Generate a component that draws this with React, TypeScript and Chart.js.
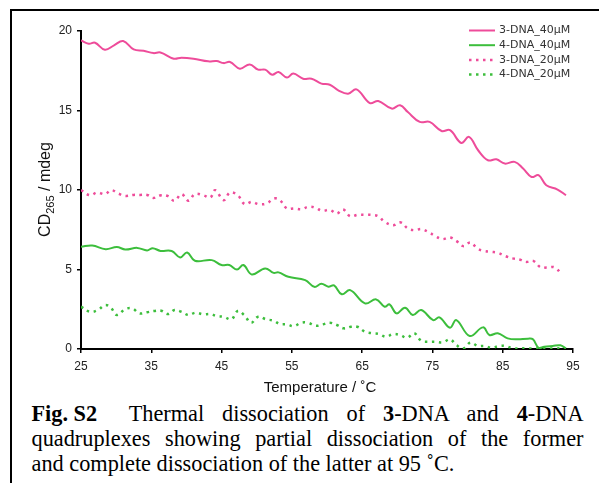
import React, { useEffect, useRef } from 'react';
import { Chart, registerables } from 'chart.js';

Chart.register(...registerables);

// ---------- data ----------
const seriesLabels = ['3-DNA_40μM', '4-DNA_40μM', '3-DNA_20μM', '4-DNA_20μM'];
const xTickValues = [25, 35, 45, 55, 65, 75, 85, 95];
const yTickValues = [0, 5, 10, 15, 20];

const dna3_40_T = [25.0, 26.1, 27.0, 28.4, 29.7, 31.0, 32.5, 33.9, 35.3, 36.3, 38.2, 39.3, 41.0, 43.1, 44.3, 45.3, 46.2, 47.6, 49.0, 50.2, 51.2, 52.2, 53.1, 54.3, 55.2, 56.6, 57.8, 59.2, 60.4, 61.6, 63.0, 64.2, 66.1, 67.3, 69.2, 70.4, 71.5, 73.2, 74.6, 76.3, 77.5, 79.1, 80.2, 81.5, 82.9, 84.1, 85.3, 86.7, 87.9, 89.1, 90.1, 91.2, 92.8, 94.0];
const dna3_40_V = [19.41, 19.2, 19.26, 18.82, 19.1, 19.37, 18.84, 18.76, 18.61, 18.65, 18.26, 18.32, 18.26, 18.09, 18.11, 17.98, 18.05, 17.63, 17.9, 17.57, 17.57, 17.25, 17.42, 17.07, 17.32, 17.0, 17.0, 16.69, 16.62, 16.27, 16.06, 16.33, 15.47, 15.6, 15.12, 15.33, 14.9, 14.28, 14.28, 13.71, 13.76, 12.96, 13.34, 12.5, 11.87, 11.93, 11.66, 11.77, 11.35, 10.82, 10.93, 10.3, 10.03, 9.67];

const dna4_40_T = [25.0, 26.6, 28.5, 30.1, 31.3, 33.0, 34.4, 35.2, 36.3, 37.9, 39.1, 40.1, 41.2, 43.6, 45.0, 46.1, 47.2, 48.1, 49.3, 51.2, 52.4, 53.1, 54.5, 56.9, 58.2, 59.2, 60.2, 61.0, 62.1, 63.3, 65.4, 67.0, 68.2, 68.9, 69.9, 71.1, 72.2, 73.4, 75.1, 76.0, 77.5, 78.4, 80.3, 82.2, 83.1, 84.3, 85.7, 87.1, 88.6, 89.3, 90.1, 90.9, 92.1, 93.2, 94.0];
const dna4_40_V = [6.43, 6.51, 6.28, 6.41, 6.26, 6.36, 6.2, 6.34, 6.17, 6.16, 5.76, 6.07, 5.55, 5.59, 5.28, 5.28, 5.0, 5.28, 4.69, 5.07, 4.79, 4.82, 4.54, 4.33, 3.91, 4.1, 3.92, 4.0, 3.44, 3.7, 2.87, 3.12, 2.66, 2.81, 2.24, 2.6, 2.14, 2.45, 1.82, 1.99, 1.34, 1.82, 0.82, 1.36, 0.88, 0.99, 0.67, 0.61, 0.65, 0.61, 0.08, 0.14, 0.19, 0.23, 0.04];

const dna3_20_T = [25.0, 26.3, 27.3, 28.4, 29.3, 30.3, 31.3, 32.5, 33.4, 34.4, 35.3, 36.4, 37.4, 38.3, 39.3, 40.3, 41.2, 42.4, 43.4, 44.1, 45.3, 46.2, 47.3, 48.3, 49.3, 50.3, 51.4, 52.5, 53.3, 54.3, 55.4, 56.4, 57.3, 58.3, 59.3, 60.4, 61.4, 62.3, 63.3, 64.4, 65.4, 66.3, 67.3, 68.2, 69.4, 70.5, 71.5, 72.5, 73.4, 74.4, 75.4, 76.4, 77.5, 78.4, 79.4, 80.4, 81.4, 82.3, 83.4, 84.3, 85.4, 86.4, 87.4, 88.3, 89.4, 90.4, 91.3, 92.4, 93.4];
const dna3_20_V = [9.99, 9.67, 9.84, 9.74, 9.99, 9.78, 9.63, 9.69, 9.69, 9.69, 9.5, 9.67, 9.61, 9.32, 9.74, 9.32, 9.74, 9.67, 9.53, 9.99, 9.36, 9.84, 9.67, 9.11, 9.25, 9.11, 9.15, 9.47, 9.36, 8.84, 8.84, 8.79, 8.94, 8.9, 8.69, 8.75, 8.52, 8.77, 8.35, 8.44, 8.44, 8.44, 8.35, 8.0, 7.79, 7.96, 7.58, 7.47, 7.54, 7.37, 7.1, 6.91, 7.01, 6.8, 6.47, 6.7, 6.32, 6.17, 6.11, 6.05, 5.84, 5.7, 5.63, 5.48, 5.53, 5.13, 5.13, 5.13, 4.69];

const dna4_20_T = [25.0, 26.3, 27.4, 28.4, 29.2, 30.1, 31.3, 32.3, 33.3, 34.4, 35.4, 36.4, 37.4, 38.3, 39.3, 40.3, 41.3, 42.4, 43.4, 44.3, 45.3, 46.4, 47.3, 48.2, 49.2, 50.2, 51.3, 52.4, 53.3, 54.3, 55.3, 56.3, 57.3, 58.4, 59.4, 60.4, 61.4, 62.4, 63.4, 64.3, 65.4, 66.4, 67.4, 68.4, 69.4, 70.4, 71.4, 72.4, 73.4, 74.4, 75.4, 76.5, 77.5, 78.4, 79.4, 80.4, 81.5, 82.4, 83.4, 84.5, 85.4, 86.4, 87.4, 88.4, 89.4, 90.4, 91.4, 92.4, 93.4];
const dna4_20_V = [2.66, 2.34, 2.45, 2.76, 2.62, 2.14, 2.51, 2.55, 2.24, 2.31, 2.39, 2.41, 2.2, 2.45, 2.34, 2.14, 2.28, 2.18, 2.2, 2.07, 2.03, 1.87, 2.39, 2.14, 1.65, 2.03, 1.87, 1.78, 1.57, 1.55, 1.44, 1.65, 1.65, 1.46, 1.55, 1.65, 1.51, 1.3, 1.4, 1.4, 1.09, 0.99, 0.94, 0.77, 0.94, 0.88, 0.71, 0.99, 0.52, 0.46, 0.46, 0.42, 0.61, 0.25, 0.04, 0.4, 0.19, 0.19, 0.08, 0.19, 0.19, 0.05, 0.03, 0.06, 0.02, 0.05, 0.04, 0.03, 0.05];

const PINK = '#EE4C9A';
const GREEN = '#3CBE3C';

const toPoints = (t: number[], v: number[]) => t.map((x, i) => ({ x, y: v[i] }));

const overlayPlugin = {
  id: 'overlay',
  afterDraw(chart: any) {
    const ctx = chart.ctx as CanvasRenderingContext2D;
    ctx.save();
    // legend
    const ly0 = 30.5;
    const ldy = 14.7;
    chart.data.datasets.forEach((ds: any, i: number) => {
      const y = ly0 + i * ldy;
      ctx.beginPath();
      ctx.strokeStyle = ds.borderColor;
      ctx.lineWidth = ds.borderWidth;
      ctx.setLineDash(ds.borderDash || []);
      ctx.moveTo(469, y);
      ctx.lineTo(495, y);
      ctx.stroke();
      ctx.setLineDash([]);
      ctx.fillStyle = '#333';
      ctx.font = '11px "DejaVu Sans"';
      ctx.textBaseline = 'middle';
      ctx.textAlign = 'left';
      ctx.fillText(ds.label, 499, y);
    });
    // x title
    ctx.fillStyle = '#111';
    ctx.font = '15px "Liberation Sans", Arial';
    ctx.textAlign = 'center';
    ctx.textBaseline = 'alphabetic';
    ctx.fillText('Temperature / ˚C', 320, 391.5);
    // y title with subscript
    ctx.translate(50, 189.5);
    ctx.rotate(-Math.PI / 2);
    const mainFont = '16px "Liberation Sans", Arial';
    const subFont = '11px "Liberation Sans", Arial';
    ctx.font = mainFont;
    const w1 = ctx.measureText('CD').width;
    const w3 = ctx.measureText(' / mdeg').width;
    ctx.font = subFont;
    const w2 = ctx.measureText('265').width;
    let x = -(w1 + w2 + w3) / 2;
    ctx.textAlign = 'left';
    ctx.font = mainFont;
    ctx.fillText('CD', x, 0);
    x += w1;
    ctx.font = subFont;
    ctx.fillText('265', x, 4);
    x += w2;
    ctx.font = mainFont;
    ctx.fillText(' / mdeg', x, 0);
    ctx.restore();
  },
};

export default function App() {
  const ref = useRef<HTMLCanvasElement | null>(null);

  useEffect(() => {
    if (!ref.current) return;
    const chart = new Chart(ref.current, {
      type: 'line',
      data: {
        datasets: [
          {
            label: seriesLabels[0],
            data: toPoints(dna3_40_T, dna3_40_V),
            borderColor: PINK,
            borderWidth: 2,
            pointRadius: 0,
            tension: 0.4,
            fill: false,
          },
          {
            label: seriesLabels[1],
            data: toPoints(dna4_40_T, dna4_40_V),
            borderColor: GREEN,
            borderWidth: 2,
            pointRadius: 0,
            tension: 0.4,
            fill: false,
          },
          {
            label: seriesLabels[2],
            data: toPoints(dna3_20_T, dna3_20_V),
            borderColor: PINK,
            borderWidth: 2.5,
            borderDash: [2.5, 4.5],
            pointRadius: 0,
            tension: 0.4,
            fill: false,
          },
          {
            label: seriesLabels[3],
            data: toPoints(dna4_20_T, dna4_20_V),
            borderColor: GREEN,
            borderWidth: 2.5,
            borderDash: [2.5, 4.5],
            pointRadius: 0,
            tension: 0.4,
            fill: false,
          },
        ],
      },
      options: {
        animation: false,
        responsive: false,
        devicePixelRatio: 1,
        layout: { padding: { left: 0, top: 31, right: 26, bottom: 0 } },
        plugins: { legend: { display: false }, tooltip: { enabled: false } },
        scales: {
          x: {
            type: 'linear',
            min: 25,
            max: 95,
            afterBuildTicks: (scale: any) => {
              scale.ticks = xTickValues.map((v) => ({ value: v }));
            },
            afterFit: (scale: any) => {
              scale.height = 51;
            },
            grid: { drawOnChartArea: false, drawTicks: true, tickLength: 4, color: '#000', lineWidth: 1.5 },
            border: { display: true, color: '#000', width: 2 },
            ticks: { padding: 6, color: '#222', font: { family: '"Liberation Sans", Arial', size: 12 } },
          },
          y: {
            type: 'linear',
            min: 0,
            max: 20,
            afterBuildTicks: (scale: any) => {
              scale.ticks = yTickValues.map((v) => ({ value: v }));
            },
            afterFit: (scale: any) => {
              scale.width = 81;
            },
            grid: { drawOnChartArea: false, drawTicks: true, tickLength: 4, color: '#000', lineWidth: 1.5 },
            border: { display: true, color: '#000', width: 2 },
            ticks: { padding: 5, color: '#222', font: { family: '"Liberation Sans", Arial', size: 12 } },
          },
        },
      },
      plugins: [overlayPlugin],
    } as any);
    return () => chart.destroy();
  }, []);

  const lineStyle: React.CSSProperties = {
    whiteSpace: 'nowrap',
    textAlign: 'justify',
    textAlignLast: 'justify' as any,
    height: 25,
  };

  return (
    <div style={{ position: 'fixed', left: 0, top: 0, width: 599, height: 483, overflow: 'hidden', background: '#fff' }}>
      <div
        style={{
          position: 'absolute',
          left: 10,
          top: 9,
          width: 589,
          height: 474,
          borderTop: '2px solid #000',
          borderLeft: '2px solid #000',
        }}
      />
      <canvas ref={ref} width={599} height={400} style={{ position: 'absolute', left: 0, top: 0, display: 'block' }} />
      <div
        style={{
          position: 'absolute',
          left: 31.5,
          top: 401,
          width: 552,
          fontFamily: '"Liberation Serif", "Times New Roman", serif',
          fontSize: 22.3,
          lineHeight: '25px',
          color: '#000',
        }}
      >
        <div style={lineStyle}>
          <span style={{ display: 'inline-block', textAlign: 'left', textAlignLast: 'left' as any, paddingRight: 14 }}>
            <b>Fig. S2</b>
          </span>{' '}
          Thermal dissociation of <b>3</b>-DNA and <b>4</b>-DNA
        </div>
        <div style={lineStyle}>quadruplexes showing partial dissociation of the former</div>
        <div style={{ whiteSpace: 'nowrap', height: 25 }}>and complete dissociation of the latter at 95 ˚C.</div>
      </div>
    </div>
  );
}
